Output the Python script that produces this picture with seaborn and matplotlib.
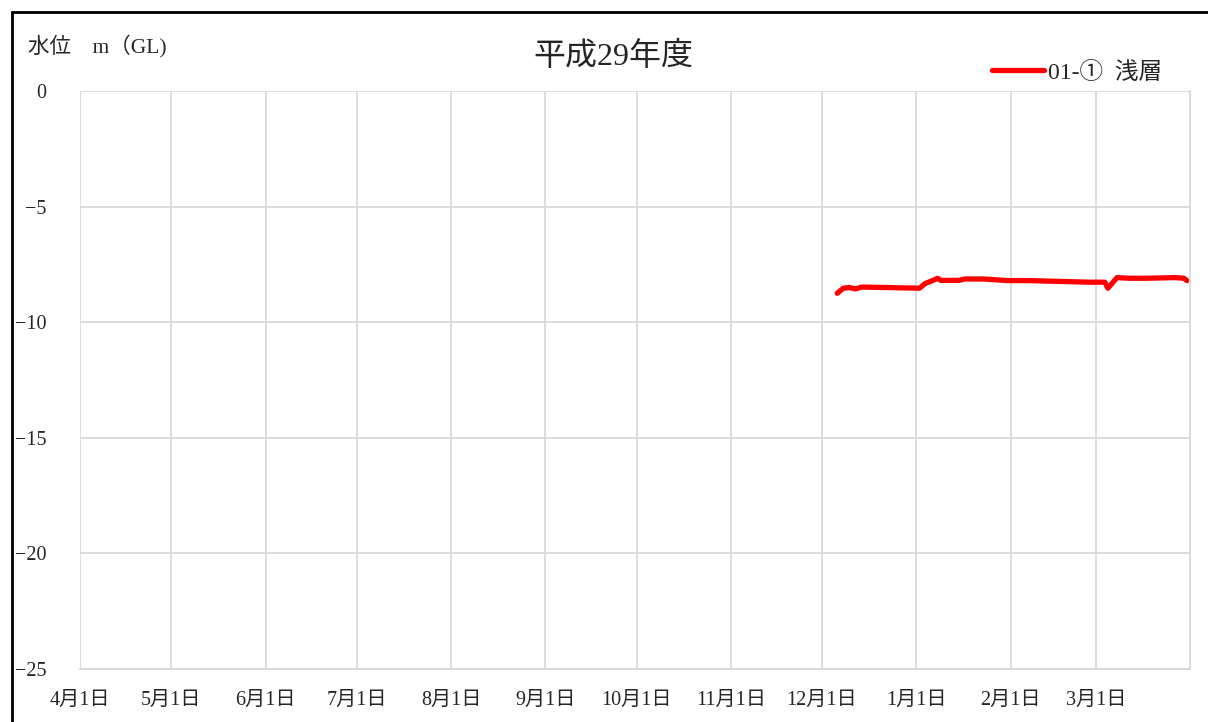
import matplotlib
matplotlib.use("Agg")
import matplotlib.pyplot as plt
from matplotlib.lines import Line2D
import seaborn as sns
import pandas as pd

# ---- data ----
dates = ["2017-12-06", "2017-12-08", "2017-12-10", "2017-12-12", "2017-12-14",
         "2017-12-22", "2018-01-02", "2018-01-04", "2018-01-06", "2018-01-08",
         "2018-01-09", "2018-01-15", "2018-01-17", "2018-01-23", "2018-01-31",
         "2018-02-07", "2018-02-27", "2018-03-04", "2018-03-05", "2018-03-08",
         "2018-03-12", "2018-03-18", "2018-03-27", "2018-03-30", "2018-03-31"]
levels = [-8.75, -8.53, -8.50, -8.56, -8.48,
          -8.50, -8.53, -8.32, -8.22, -8.10,
          -8.19, -8.19, -8.13, -8.13, -8.20,
          -8.20, -8.27, -8.27, -8.53, -8.07,
          -8.10, -8.10, -8.07, -8.10, -8.20]
series_name = "01-① 浅層"
title = "平成29年度"
ylabel = "水位　m（GL)"
month_ticks = ["2017-04-01", "2017-05-01", "2017-06-01", "2017-07-01", "2017-08-01",
               "2017-09-01", "2017-10-01", "2017-11-01", "2017-12-01", "2018-01-01",
               "2018-02-01", "2018-03-01"]
month_labels = ["4月1日", "5月1日", "6月1日", "7月1日", "8月1日", "9月1日",
                "10月1日", "11月1日", "12月1日", "1月1日", "2月1日", "3月1日"]
y_ticks = [0, -5, -10, -15, -20, -25]

df = pd.DataFrame({"date": pd.to_datetime(dates), "level": levels, "series": series_name})

sns.set_theme(style="white")
plt.rcParams["font.family"] = ["Liberation Serif", "Noto Sans CJK JP", "DejaVu Sans"]
plt.rcParams["axes.unicode_minus"] = True

W, H = 1208, 722
fig = plt.figure(figsize=(W / 100, H / 100), dpi=100)
ax = fig.add_axes([80 / W, 1 - 669 / H, (1190 - 80) / W, (669 - 91) / H])

sns.lineplot(data=df, x="date", y="level", hue="series", palette=["#ff0000"],
             linewidth=3.8, ax=ax, legend=False, solid_capstyle="round",
             solid_joinstyle="round")

ax.set_xlim(pd.Timestamp("2017-04-01"), pd.Timestamp("2018-04-01"))
ax.set_ylim(-25, 0)
ax.set_xticks(pd.to_datetime(month_ticks))
ax.set_xticklabels(month_labels, fontsize=14.5)
ax.set_yticks(y_ticks)
ax.set_yticklabels([str(v).replace("-", "\u2212") for v in y_ticks], fontsize=14.5)
ax.tick_params(axis="x", length=0, pad=16)
ax.tick_params(axis="y", length=0, pad=24)
ax.set_xlabel("")
ax.set_ylabel("")
ax.grid(True, color="#d9d9d9", linewidth=1.3)
for s in ["top", "left"]:
    ax.spines[s].set_visible(False)
for s in ["bottom", "right"]:
    ax.spines[s].set_color("#d9d9d9")
    ax.spines[s].set_linewidth(1.3)

fig.text(613 / W, 1 - 57 / H, title, ha="center", va="center", fontsize=23)
fig.text(28 / W, 1 - 46 / H, ylabel, ha="left", va="center", fontsize=15.5)

# legend
fig.add_artist(Line2D([992 / W, 1044 / W], [1 - 70 / H, 1 - 70 / H], color="#ff0000",
                      linewidth=3.8, solid_capstyle="round"))
fig.text(1048 / W, 1 - 73 / H, series_name.replace(" ", "  "), ha="left", va="center",
         fontsize=17)

# outer frame
fig.add_artist(Line2D([12 / W, 12 / W], [0, 1 - 12 / H], color="black", linewidth=2))
fig.add_artist(Line2D([12 / W, 1], [1 - 12 / H, 1 - 12 / H], color="black", linewidth=2))

fig.savefig("out.png", dpi=100)
